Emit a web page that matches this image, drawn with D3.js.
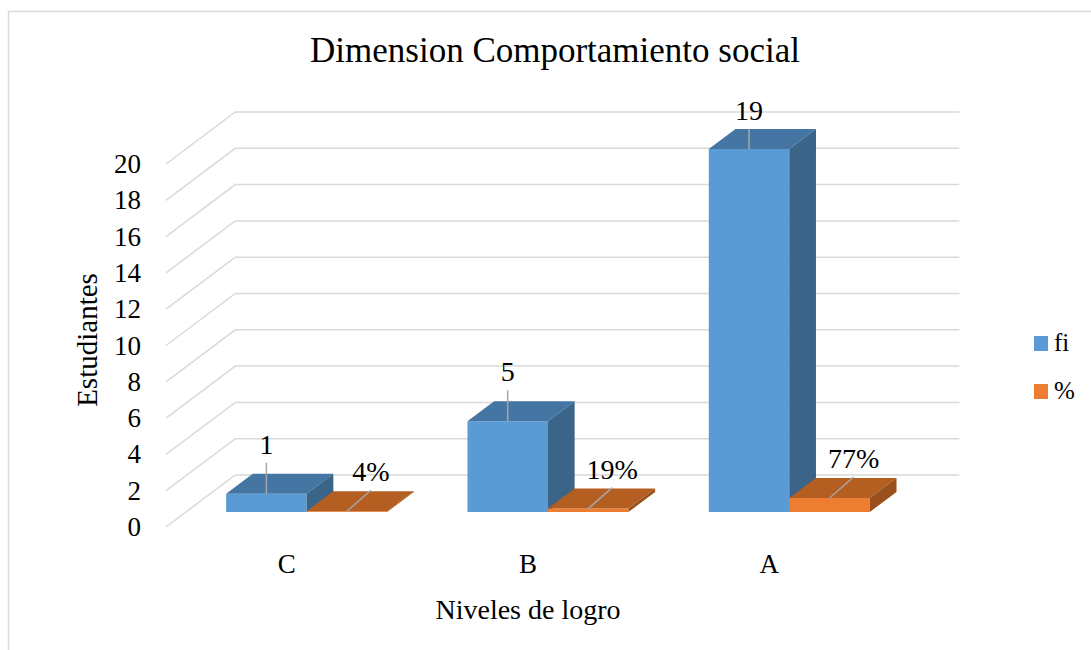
<html>
<head>
	<title>Dimension Comportamiento social</title>
	<meta charset="utf-8">
	<script src="https://cdn.jsdelivr.net/npm/d3@7"></script>
	<style>
		body { margin: 0; background: #fff; }
	</style>
</head>
<body>
	<script type="text/javascript">
		// data
		var categories = ["C", "B", "A"]
		var series = ["fi", "%"]
		var fiValues = [1, 5, 20]
		var fiLabels = ["1", "5", "19"]
		var pctValues = [0.04, 0.19, 0.77]
		var pctLabels = ["4%", "19%", "77%"]
		var yTicks = [0, 2, 4, 6, 8, 10, 12, 14, 16, 18, 20]

		var width = 1091
		var height = 650
		var serif = "Liberation Serif"

		var svg = d3.select("body").append("svg")
		  .attr("width", width)
		  .attr("height", height)
		  .attr("font-family", serif)

		// outer frame (only left and top edges are in view)
		svg.append("rect")
			.attr("x", 8.5).attr("y", 11.5)
			.attr("width", 1200).attr("height", 800)
			.attr("fill", "none").attr("stroke", "#d9d9d9").attr("stroke-width", 1.5)

		// 3d projection: depth 0 = front plane, 1 = back wall
		var depthX = 69.3, depthY = 52
		var x = d3.scaleBand().domain(categories).range([166, 890])
		var y = d3.scaleLinear().domain([0, 20]).range([527, 164])
		var inner = d3.scaleBand().domain(series).range([0, 161])
		function P(px, v, d) { return [px + d * depthX, y(v) - d * depthY] }
		function poly(pts) { return "M" + pts.map(p => p.join(",")).join("L") + "Z" }

		// gridlines: side wall diagonal + back wall
		svg.append("g").selectAll("path")
		  .data(yTicks)
		  .enter()
		  .append("path")
			.attr("d", t => "M" + P(166, t, 0) + "L" + P(166, t, 1) + "L" + P(890, t, 1))
			.attr("fill", "none").attr("stroke", "#d9d9d9").attr("stroke-width", 1.5)

		// tick labels
		svg.append("g").selectAll("text")
		  .data(yTicks)
		  .enter()
		  .append("text")
			.attr("x", 141).attr("y", t => y(t) + 9)
			.attr("text-anchor", "end").attr("font-size", 27)
			.text(t => t)

		var colors = {
			fi: {front: "#5b9bd5", top: "#4575a3", side: "#3a6488"},
			"%": {front: "#ed7d31", top: "#b45e22", side: "#9a501c"}
		}
		var z0 = 0.288, z1 = 0.673

		var bars = []
		categories.forEach(function(c, i) {
			bars.push({cat: c, s: "fi", v: fiValues[i], label: fiLabels[i]})
			bars.push({cat: c, s: "%", v: pctValues[i], label: pctLabels[i]})
		})
		bars.forEach(function(b) {
			b.x0 = x(b.cat) + x.bandwidth() / 2 - 80.5 + inner(b.s)
			b.x1 = b.x0 + inner.bandwidth()
		})

		var gBars = svg.append("g")
		bars.forEach(function(b) {
			var col = colors[b.s]
			gBars.append("path").attr("fill", col.front)
				.attr("d", poly([P(b.x0, 0, z0), P(b.x1, 0, z0), P(b.x1, b.v, z0), P(b.x0, b.v, z0)]))
			gBars.append("path").attr("fill", col.top)
				.attr("d", poly([P(b.x0, b.v, z0), P(b.x1, b.v, z0), P(b.x1, b.v, z1), P(b.x0, b.v, z1)]))
			gBars.append("path").attr("fill", col.side)
				.attr("d", poly([P(b.x1, 0, z0), P(b.x1, 0, z1), P(b.x1, b.v, z1), P(b.x1, b.v, z0)]))
		})

		// data labels with leader lines
		var gLab = svg.append("g")
		bars.forEach(function(b) {
			var ft = P((b.x0 + b.x1) / 2, b.v, z0)
			var lx, ly
			if (b.s == "fi") {
				lx = ft[0]
				ly = Math.max(ft[1] - 40, 120)
			} else {
				lx = ft[0] + 24
				ly = ft[1] - 30
			}
			gLab.append("line")
				.attr("x1", ft[0]).attr("y1", ft[1])
				.attr("x2", lx).attr("y2", ly + 9)
				.attr("stroke", "#a6a6a6").attr("stroke-width", 1.5)
			gLab.append("text")
				.attr("x", lx).attr("y", ly)
				.attr("text-anchor", "middle").attr("font-size", 28)
				.text(b.label)
		})

		// category labels
		svg.append("g").selectAll("text")
		  .data(categories)
		  .enter()
		  .append("text")
			.attr("x", c => x(c) + x.bandwidth() / 2)
			.attr("y", 573)
			.attr("text-anchor", "middle").attr("font-size", 27)
			.text(c => c)

		// titles
		svg.append("text")
			.attr("x", 555).attr("y", 62)
			.attr("text-anchor", "middle").attr("font-size", 35)
			.text("Dimension Comportamiento social")

		svg.append("text")
			.attr("transform", "translate(97,340) rotate(-90)")
			.attr("text-anchor", "middle").attr("font-size", 29)
			.text("Estudiantes")

		svg.append("text")
			.attr("x", 528).attr("y", 619)
			.attr("text-anchor", "middle").attr("font-size", 28)
			.text("Niveles de logro")

		// legend
		var legend = svg.append("g").selectAll("g")
		  .data(series)
		  .enter()
		  .append("g")
			.attr("transform", (s, i) => "translate(1034," + (336 + i * 48) + ")")
		legend.append("rect")
			.attr("width", 14).attr("height", 15)
			.attr("fill", s => colors[s].front)
		legend.append("text")
			.attr("x", 20).attr("y", 15)
			.attr("font-size", 25)
			.text(s => s)
	</script>
</body>
</html>
